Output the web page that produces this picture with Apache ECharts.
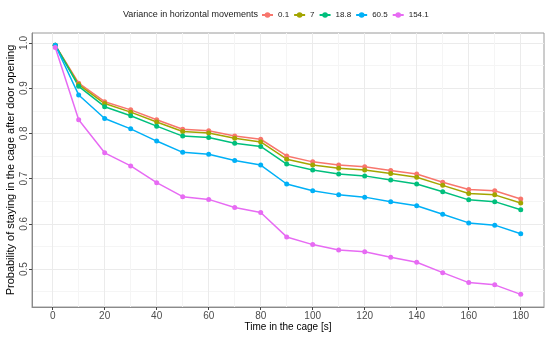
<!DOCTYPE html>
<html><head><meta charset="utf-8">
<script src="https://cdn.jsdelivr.net/npm/echarts@6/dist/echarts.min.js"></script>
<style>html,body{margin:0;padding:0;background:#fff}#c{width:550px;height:338px}</style>
</head><body><div id="c"></div>
<script>
const times = [1,10,20,30,40,50,60,70,80,90,100,110,120,130,140,150,160,170,180];
const seriesNames = ['0.1','7','18.8','60.5','154.1'];
const v01  = [0.995,0.911,0.870,0.852,0.830,0.809,0.806,0.794,0.787,0.750,0.737,0.730,0.726,0.718,0.710,0.692,0.676,0.673,0.655];
const v7   = [0.995,0.908,0.866,0.847,0.825,0.804,0.801,0.789,0.781,0.743,0.730,0.723,0.719,0.711,0.703,0.685,0.667,0.664,0.646];
const v188 = [0.995,0.904,0.859,0.839,0.816,0.794,0.791,0.778,0.771,0.732,0.719,0.710,0.706,0.697,0.688,0.671,0.653,0.649,0.631];
const v605 = [0.995,0.885,0.833,0.810,0.783,0.758,0.754,0.740,0.730,0.688,0.673,0.664,0.659,0.649,0.640,0.621,0.602,0.597,0.578];
const v1541= [0.990,0.830,0.757,0.728,0.691,0.660,0.654,0.636,0.625,0.571,0.554,0.542,0.538,0.526,0.515,0.492,0.470,0.465,0.444];
const xTicks = [0,20,40,60,80,100,120,140,160,180];
const xMinor = [10,30,50,70,90,110,130,150,170];
const yTicks = [0.5,0.6,0.7,0.8,0.9,1.0];
const yMinor = [0.45,0.55,0.65,0.75,0.85,0.95];
const colors = ['#F8766D','#A3A500','#00BF7D','#00B0F6','#E76BF3'];
const allValues = [v01, v7, v188, v605, v1541];

const X_MIN = -7.95, X_MAX = 188.95, Y_MIN = 0.416, Y_MAX = 1.022;
const font = 'Liberation Sans, Arial, sans-serif';

const chart = echarts.init(document.getElementById('c'), null, {renderer:'canvas'});
const series = seriesNames.map((n,i)=>({
  name: n, type: 'line', xAxisIndex: 0, yAxisIndex: 0,
  data: times.map((t,j)=>[t, allValues[i][j]]),
  symbol: 'circle', symbolSize: 5, showSymbol: true,
  lineStyle: {width: 1.5, color: colors[i]},
  itemStyle: {color: colors[i]},
  emphasis: {disabled: true}, animation: false, z: 3
}));

chart.setOption({
  animation: false,
  backgroundColor: '#fff',
  title: {text: 'Variance in horizontal movements', left: 118, top: 5,
    textStyle: {fontFamily: font, fontSize: 9, fontWeight: 'normal', color: '#1a1a1a'}},
  legend: {
    data: seriesNames, left: 256, top: 6, itemWidth: 11, itemHeight: 7, itemGap: 4,
    textStyle: {fontFamily: font, fontSize: 8, color: '#1a1a1a'}
  },
  grid: {left: 32, right: 6, top: 33, bottom: 31, show: true, borderColor: '#9a9a9a', borderWidth: 1, containLabel: false, outerBoundsMode: 'none'},
  xAxis: [{
    type: 'value', min: X_MIN, max: X_MAX, gridIndex: 0,
    name: 'Time in the cage [s]', nameLocation: 'middle', nameGap: 15, nameMoveOverlap: false,
    nameTextStyle: {fontFamily: font, fontSize: 10, color: '#000'},
    axisLine: {show: true, onZero: false, lineStyle: {color: '#8a8a8a'}},
    axisTick: {show: true, length: 3, customValues: xTicks, lineStyle: {color: '#444'}},
    axisLabel: {customValues: xTicks, fontFamily: font, fontSize: 10, color: '#4d4d4d', margin: 4},
    splitLine: {show: true, lineStyle: {color: '#ebebeb', width: 1}}
  },{
    type: 'value', min: X_MIN, max: X_MAX, gridIndex: 0, position: 'bottom',
    axisLine: {show: false}, axisTick: {show: false, customValues: xMinor},
    axisLabel: {show: false, customValues: xMinor},
    splitLine: {show: true, lineStyle: {color: '#f5f5f5', width: 1}}
  }],
  yAxis: [{
    type: 'value', min: Y_MIN, max: Y_MAX, gridIndex: 0,
    name: 'Probability of staying in the cage after door opening', nameLocation: 'middle', nameGap: 16, nameRotate: 90, nameMoveOverlap: false,
    nameTextStyle: {fontFamily: font, fontSize: 11, color: '#000'},
    axisLine: {show: true, onZero: false, lineStyle: {color: '#8a8a8a'}},
    axisTick: {show: true, length: 3, customValues: yTicks, lineStyle: {color: '#444'}},
    axisLabel: {customValues: yTicks, rotate: 90, fontFamily: font, fontSize: 10, color: '#4d4d4d', margin: 3,
      formatter: v => v.toFixed(1)},
    splitLine: {show: true, lineStyle: {color: '#ebebeb', width: 1}}
  },{
    type: 'value', min: Y_MIN, max: Y_MAX, gridIndex: 0, position: 'left',
    axisLine: {show: false}, axisTick: {show: false, customValues: yMinor},
    axisLabel: {show: false, customValues: yMinor},
    splitLine: {show: true, lineStyle: {color: '#f5f5f5', width: 1}}
  }],
  series: series
});
</script></body></html>
